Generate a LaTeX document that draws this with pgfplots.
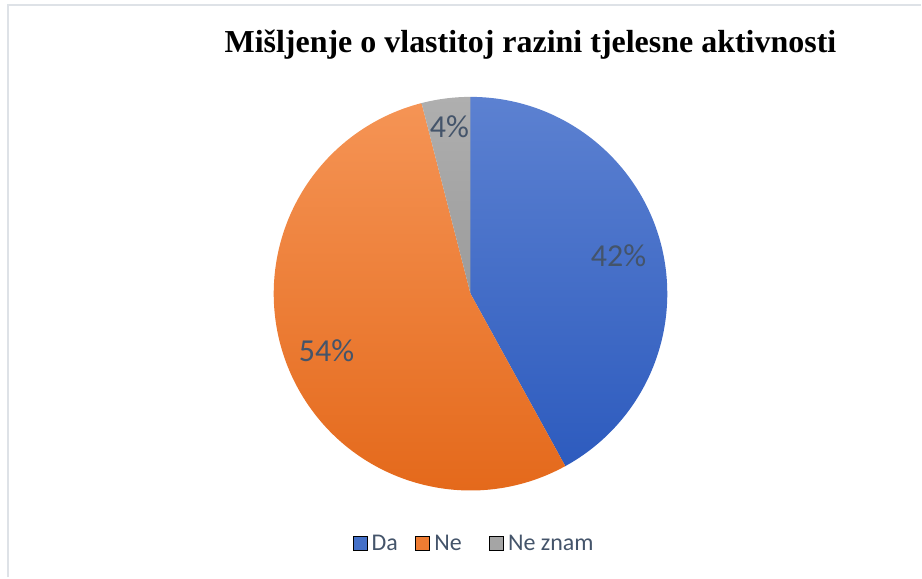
\documentclass[border=0pt]{standalone}
\usepackage{pgfplots}
\pgfplotsset{compat=1.18}
\usepackage{pgfplotstable}
\usepackage{fontspec}
\setmainfont{Carlito}
\newfontfamily\titlefont{Liberation Serif}

\definecolor{daTop}{HTML}{5C81D1}
\definecolor{daBot}{HTML}{2D5BBE}
\definecolor{daMid}{HTML}{4470C8}
\definecolor{neTop}{HTML}{F59455}
\definecolor{neBot}{HTML}{E36617}
\definecolor{neMid}{HTML}{EF7C32}
\definecolor{nzTop}{HTML}{AFAFAF}
\definecolor{nzBot}{HTML}{9B9B9B}
\definecolor{nzMid}{HTML}{A5A5A5}
\definecolor{lbl}{HTML}{44546A}
\definecolor{framec}{HTML}{DEE2E7}

\pgfplotstableread{
label value
Da 42
Ne 54
NeZnam 4
}\piedata

\pgfplotstablegetelem{0}{value}\of\piedata \edef\vA{\pgfplotsretval}
\pgfplotstablegetelem{1}{value}\of\piedata \edef\vB{\pgfplotsretval}
\pgfplotstablegetelem{2}{value}\of\piedata \edef\vC{\pgfplotsretval}
\pgfmathsetmacro\aA{90}
\pgfmathsetmacro\aB{\aA-3.6*\vA}
\pgfmathsetmacro\aC{\aB-3.6*\vB}
\pgfmathsetmacro\aD{\aC-3.6*\vC}
\pgfmathsetmacro\mA{(\aA+\aB)/2}
\pgfmathsetmacro\mB{(\aB+\aC)/2}
\pgfmathsetmacro\mC{(\aC+\aD)/2}

\begin{document}
\begin{tikzpicture}
\begin{axis}[
  scale only axis, width=922bp, height=578bp,
  xmin=0, xmax=922, ymin=0, ymax=578,
  hide axis, clip=false,
  legend columns=-1,
  legend image code/.code={\fill[#1] (0bp,-7bp) rectangle (14bp,7bp);},
  legend style={at={(axis cs:476,34)}, anchor=center, draw=none, fill=none,
    font=\fontsize{24bp}{24bp}\selectfont, text=lbl,
    nodes={inner xsep=4.5bp, inner ysep=2bp},
    /tikz/every even column/.append style={column sep=13bp}},
]
\path (axis cs:0,0) rectangle (axis cs:922,578);
\draw[framec, line width=2bp] (axis cs:8.5,0) -- (axis cs:8.5,572.5) -- (axis cs:922,572.5);

\shade[top color=daTop, bottom color=daBot]
  (axis cs:471,284) -- ++(\aA:197bp) arc[start angle=\aA, end angle=\aB, radius=197bp] -- cycle;
\shade[top color=neTop, bottom color=neBot]
  (axis cs:471,284) -- ++(\aB:197bp) arc[start angle=\aB, end angle=\aC, radius=197bp] -- cycle;
\shade[top color=nzTop, bottom color=nzBot]
  (axis cs:471,284) -- ++(\aC:197bp) arc[start angle=\aC, end angle=\aD, radius=197bp] -- cycle;

\path (axis cs:471,284) ++(\mA:153bp) node[text=lbl, font=\fontsize{32bp}{32bp}\selectfont] {\vA\%};
\path (axis cs:471,284) ++(\mB:155bp) node[text=lbl, font=\fontsize{32bp}{32bp}\selectfont] {\vB\%};
\path (axis cs:471,284) ++(\mC:168bp) node[text=lbl, font=\fontsize{32bp}{32bp}\selectfont] {\vC\%};

\node[anchor=base, font=\titlefont\bfseries\fontsize{32bp}{32bp}\selectfont]
  at (axis cs:531,525) {Mišljenje o vlastitoj razini tjelesne aktivnosti};

\addlegendimage{fill=daMid}
\addlegendentry{Da}
\addlegendimage{fill=neMid}
\addlegendentry{Ne\hspace*{10bp}}
\addlegendimage{fill=nzMid}
\addlegendentry{Ne znam}
\end{axis}
\end{tikzpicture}
\end{document}
